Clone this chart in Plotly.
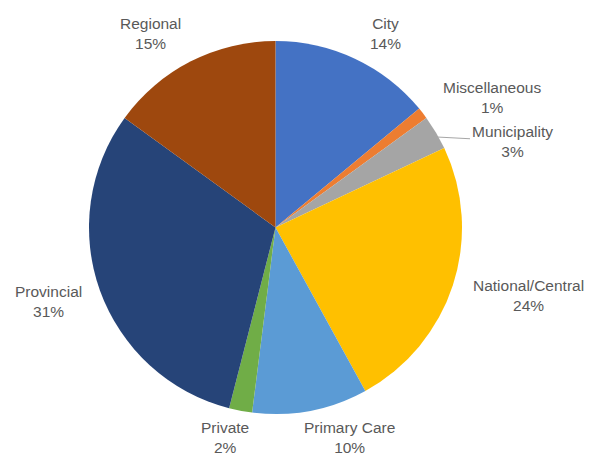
import plotly.graph_objects as go

labels = ["City", "Miscellaneous", "Municipality", "National/Central",
          "Primary Care", "Private", "Provincial", "Regional"]
values = [14, 1, 3, 24, 10, 2, 31, 15]
colors = ["#4472C4", "#ED7D31", "#A5A5A5", "#FFC000",
          "#5B9BD5", "#70AD47", "#264478", "#9E480E"]

W, H = 590, 458
# label block centres in pixels (layout only)
label_pos = {
    "City": (385, 33),
    "Miscellaneous": (492, 97),
    "Municipality": (512, 141),
    "National/Central": (528, 295),
    "Primary Care": (349, 437),
    "Private": (225, 437),
    "Provincial": (48, 301),
    "Regional": (150, 33),
}

total = sum(values)
fig = go.Figure(go.Pie(
    labels=labels, values=values, sort=False, direction="clockwise",
    rotation=0, marker=dict(colors=colors, line=dict(width=0)),
    textinfo="none", hoverinfo="label+percent", showlegend=False,
    domain=dict(x=[88 / W, 463 / W], y=[1 - 414 / H, 1 - 41 / H]),
))

font = dict(family="Liberation Sans, Arial, sans-serif", size=15.5, color="#595959")
annotations = []
for lab, val in zip(labels, values):
    px, py = label_pos[lab]
    txt = f"{lab}<br>{round(100 * val / total)}%"
    if lab == "Municipality":
        annotations.append(dict(
            x=437 / W, y=1 - 137 / H, xref="paper", yref="paper",
            text=txt, showarrow=True, arrowhead=0, arrowwidth=1,
            arrowcolor="#A6A6A6", ax=px - 437, ay=py - 137,
            font=font, align="center"))
    else:
        annotations.append(dict(
            x=px / W, y=1 - py / H, xref="paper", yref="paper",
            text=txt, showarrow=False, font=font, align="center",
            xanchor="center", yanchor="middle"))

fig.update_layout(
    width=W, height=H, margin=dict(l=0, r=0, t=0, b=0),
    paper_bgcolor="white", plot_bgcolor="white",
    annotations=annotations,
)
fig.write_html(
    "out.html",
    config={"displayModeBar": False},
    post_script="document.body.style.margin='0';document.body.style.overflow='hidden';",
)
